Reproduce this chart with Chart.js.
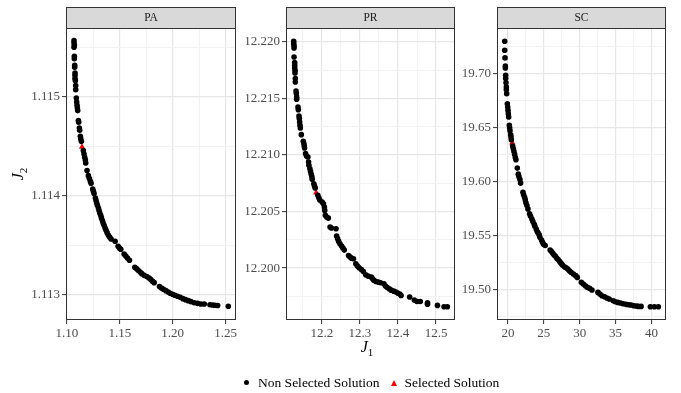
<!DOCTYPE html>
<html>
<head>
<meta charset="utf-8">
<script src="https://cdn.jsdelivr.net/npm/chart.js@4.4.0/dist/chart.umd.min.js"></script>
<style>
  html, body { margin: 0; padding: 0; background: #fff; }
  #wrap { position: relative; width: 681px; height: 393px; overflow: hidden; font-family: 'Liberation Serif', serif; }
  #wrap canvas { position: absolute; left: 0; top: 0; }
  .axtitle { position: absolute; width: 40px; height: 20px; line-height: 20px; text-align: center; font-size: 16px; color: #000; }
  .axtitle sub { font-size: 11px; font-style: normal; }
  #legend { position: absolute; left: 244px; top: 373px; font-size: 13.5px; color: #000; white-space: nowrap; line-height: 18px; }
  #legend span { display: inline-block; vertical-align: middle; }
  .dot { width: 5px; height: 5px; border-radius: 50%; background: #000; margin-right: 9px; }
  .tri { width: 0; height: 0; border-left: 3.5px solid transparent; border-right: 3.5px solid transparent; border-bottom: 6px solid #ff0000; margin: 0 8px 0 11px; }
</style>
</head>
<body>
<div id="wrap">
  <canvas id="pa" width="681" height="393"></canvas>
  <canvas id="pr" width="681" height="393"></canvas>
  <canvas id="sc" width="681" height="393"></canvas>
  <div class="axtitle" style="left:347px; top:337px;"><i>J</i><sub>1</sub></div>
  <div class="axtitle" style="left:-2px; top:164px; transform: rotate(-90deg);"><i>J</i><sub>2</sub></div>
  <div id="legend"><span class="dot"></span><span>Non Selected Solution</span><span class="tri"></span><span>Selected Solution</span></div>
</div>
<script>
// PA panel
const paJ1 = [1.10678,1.10678,1.10709,1.10678,1.10709,1.10709,1.10741,1.10741,1.10772,1.10772,
  1.10772,1.10804,1.10835,1.10835,1.10898,1.10930,1.10962,1.10993,1.11025,1.11088,
  1.11119,1.11182,1.11214,1.11277,1.11309,1.11372,1.11561,1.11624,1.11687,1.11750,
  1.11782,1.11908,1.12034,1.12129,1.12224,1.12287,1.12444,1.12508,1.12571,1.12697,
  1.12760,1.12823,1.12886,1.12981,1.13044,1.13107,1.13202,1.13265,1.13359,1.13422,
  1.13517,1.13612,1.13706,1.13801,1.13927,1.14053,1.14180,1.14558,1.14842,1.14968,
  1.15095,1.15410,1.15568,1.15726,1.15915,1.16420,1.16578,1.16735,1.16925,1.17082,
  1.17303,1.17556,1.17776,1.17934,1.18092,1.18250,1.18754,1.18944,1.19133,1.19354,
  1.19575,1.19764,1.19985,1.20206,1.20458,1.20711,1.20963,1.21215,1.21468,1.21720,
  1.22036,1.22351,1.22667,1.22982,1.23519,1.23771,1.23992,1.24244,1.25254];
const paJ2 = [1.115570,1.115546,1.115523,1.115503,1.115412,1.115388,1.115320,1.115300,1.115243,1.115219,
  1.115186,1.115165,1.115115,1.115074,1.114990,1.114949,1.114916,1.114889,1.114862,1.114761,
  1.114744,1.114686,1.114663,1.114602,1.114578,1.114551,1.114457,1.114423,1.114389,1.114362,
  1.114332,1.114255,1.114204,1.114174,1.114147,1.114126,1.114069,1.114045,1.114022,1.113978,
  1.113951,1.113927,1.113904,1.113877,1.113850,1.113826,1.113803,1.113776,1.113749,1.113725,
  1.113701,1.113674,1.113651,1.113627,1.113600,1.113580,1.113563,1.113540,1.113489,1.113472,
  1.113459,1.113411,1.113391,1.113371,1.113347,1.113276,1.113263,1.113246,1.113229,1.113212,
  1.113195,1.113182,1.113168,1.113152,1.113135,1.113121,1.113081,1.113067,1.113054,1.113040,
  1.113027,1.113013,1.113003,1.112993,1.112983,1.112973,1.112959,1.112949,1.112939,1.112929,
  1.112918,1.112911,1.112905,1.112905,1.112898,1.112895,1.112892,1.112889,1.112882];
const paSelected = [1.11435, 1.114494];
const paXTicks = [1.10, 1.15, 1.20, 1.25];
const paXLabels = ['1.10', '1.15', '1.20', '1.25'];
const paYTicks = [1.113, 1.114, 1.115];
const paYLabels = ['1.113', '1.114', '1.115'];

// PR panel
const prJ1 = [12.1263,12.1263,12.1272,12.1272,12.1272,12.1289,12.1289,12.1289,12.1298,12.1298,
  12.1306,12.1306,12.1324,12.1332,12.1341,12.1341,12.1376,12.1384,12.1402,12.1410,
  12.1419,12.1428,12.1437,12.1463,12.1515,12.1532,12.1541,12.1549,12.1575,12.1601,
  12.1636,12.1653,12.1662,12.1688,12.1705,12.1723,12.1740,12.1749,12.1792,12.1809,
  12.1827,12.1896,12.1922,12.1948,12.2009,12.2043,12.2069,12.2078,12.2095,12.2130,
  12.2173,12.2217,12.2251,12.2373,12.2390,12.2416,12.2442,12.2477,12.2520,12.2555,
  12.2590,12.2702,12.2737,12.2780,12.2832,12.2893,12.2936,12.2980,12.3040,12.3092,
  12.3153,12.3214,12.3301,12.3335,12.3370,12.3422,12.3483,12.3543,12.3630,12.3673,
  12.3717,12.3769,12.3821,12.3890,12.3942,12.3994,12.4046,12.4081,12.4306,12.4428,
  12.4497,12.4584,12.4774,12.4774,12.5035,12.5208,12.5295];
const prJ2 = [12.22006,12.21985,12.21965,12.21947,12.21867,12.21817,12.21794,12.21770,12.21749,12.21726,
  12.21676,12.21646,12.21566,12.21543,12.21513,12.21493,12.21425,12.21401,12.21345,12.21322,
  12.21292,12.21263,12.21239,12.21180,12.21121,12.21100,12.21080,12.21062,12.21012,12.20991,
  12.20982,12.20938,12.20909,12.20879,12.20855,12.20829,12.20808,12.20785,12.20746,12.20726,
  12.20708,12.20643,12.20622,12.20602,12.20584,12.20569,12.20540,12.20510,12.20466,12.20451,
  12.20442,12.20363,12.20354,12.20348,12.20283,12.20260,12.20236,12.20215,12.20195,12.20177,
  12.20159,12.20112,12.20100,12.20088,12.20083,12.20038,12.20018,12.20003,12.19988,12.19970,
  12.19941,12.19929,12.19920,12.19906,12.19891,12.19882,12.19876,12.19870,12.19861,12.19841,
  12.19829,12.19817,12.19805,12.19796,12.19788,12.19779,12.19770,12.19758,12.19744,12.19717,
  12.19705,12.19705,12.19693,12.19681,12.19670,12.19658,12.19658];
const prSelected = [12.1853, 12.20667];
const prXTicks = [12.2, 12.3, 12.4, 12.5];
const prXLabels = ['12.2', '12.3', '12.4', '12.5'];
const prYTicks = [12.200, 12.205, 12.210, 12.215, 12.220];
const prYLabels = ['12.200', '12.205', '12.210', '12.215', '12.220'];

// SC panel
const scJ1 = [19.537,19.537,19.583,19.630,19.630,19.676,19.676,19.722,19.769,19.769,
  19.815,19.907,19.954,20.000,20.046,20.093,20.185,20.231,20.278,20.370,
  20.417,20.463,20.648,20.741,20.833,20.926,21.019,21.111,21.296,21.435,
  21.528,21.667,21.759,22.083,22.176,22.315,22.407,22.500,22.639,22.778,
  23.009,23.148,23.333,23.472,23.657,23.750,23.935,24.074,24.213,24.352,
  24.444,24.676,24.815,24.954,25.185,25.880,26.065,26.250,26.435,26.620,
  26.806,26.991,27.222,27.407,27.593,27.870,28.102,28.333,28.565,28.796,
  29.120,29.444,29.676,30.231,30.509,30.787,31.065,31.389,31.713,32.546,
  32.824,33.102,33.472,33.796,34.120,34.676,34.954,35.324,35.694,36.065,
  36.481,36.852,37.176,37.546,37.917,38.194,38.565,39.861,40.417,40.972];
const scJ2 = [19.7300,19.7217,19.7146,19.7071,19.7053,19.6985,19.6954,19.6916,19.6876,19.6851,
  19.6814,19.6721,19.6690,19.6659,19.6628,19.6598,19.6520,19.6495,19.6471,19.6433,
  19.6412,19.6387,19.6328,19.6303,19.6279,19.6251,19.6223,19.6201,19.6124,19.6068,
  19.6043,19.6019,19.5985,19.5901,19.5876,19.5854,19.5830,19.5802,19.5777,19.5746,
  19.5700,19.5678,19.5653,19.5628,19.5604,19.5585,19.5560,19.5536,19.5523,19.5505,
  19.5483,19.5458,19.5437,19.5418,19.5406,19.5365,19.5350,19.5334,19.5319,19.5307,
  19.5288,19.5276,19.5257,19.5241,19.5226,19.5210,19.5201,19.5189,19.5173,19.5158,
  19.5142,19.5127,19.5111,19.5065,19.5050,19.5034,19.5019,19.5009,19.4994,19.4972,
  19.4957,19.4941,19.4932,19.4920,19.4910,19.4895,19.4885,19.4879,19.4873,19.4867,
  19.4861,19.4858,19.4855,19.4848,19.4845,19.4842,19.4842,19.4839,19.4839,19.4839];
const scSelected = [20.602, 19.6359];
const scXTicks = [20, 25, 30, 35, 40];
const scXLabels = ['20', '25', '30', '35', '40'];
const scYTicks = [19.50, 19.55, 19.60, 19.65, 19.70];
const scYLabels = ['19.50', '19.55', '19.60', '19.65', '19.70'];

const W = 681, H = 393;
const Y_AXIS_W = 40, X_AXIS_H = 30;
const FONT = 'Liberation Serif';

// major ticks plus the half-way minor gridlines inside the range
function tickSet(majors, min, max) {
    const half = (majors[1] - majors[0]) / 2;
    const out = [];
    for (let v = majors[0] - half; v <= majors[majors.length - 1] + half + 1e-9; v += half) {
        const r = +v.toFixed(6);
        if (r > min && r < max) out.push(r);
    }
    return out;
}

function labelFor(majors, labels, v) {
    const eps = (majors[1] - majors[0]) * 1e-3;
    const i = majors.findIndex(m => Math.abs(m - v) < eps);
    return i >= 0 ? labels[i] : '';
}

function axis(majors, labels, range, isX) {
    const major = c => c.tick && labelFor(majors, labels, c.tick.value) !== '';
    return {
        type: 'linear',
        position: isX ? 'bottom' : 'left',
        min: range[0],
        max: range[1],
        afterBuildTicks: ax => { ax.ticks = tickSet(majors, range[0], range[1]).map(v => ({ value: v })); },
        afterFit: ax => { if (isX) ax.height = X_AXIS_H; else ax.width = Y_AXIS_W; },
        border: { display: false },
        grid: {
            color: c => major(c) ? '#E6E6E6' : '#F2F2F2',
            lineWidth: c => major(c) ? 1.2 : 1,
            tickColor: c => major(c) ? '#333333' : 'rgba(0,0,0,0)',
            tickLength: 4,
            tickWidth: 1
        },
        ticks: {
            autoSkip: false,
            maxRotation: 0,
            padding: 2,
            color: '#4D4D4D',
            font: { family: FONT, size: 13 },
            callback: v => labelFor(majors, labels, v)
        }
    };
}

const panelFrame = {
    id: 'panelFrame',
    beforeDraw(chart, args, opts) {
        const a = chart.chartArea, ctx = chart.ctx;
        ctx.save();
        ctx.fillStyle = '#D9D9D9';
        ctx.fillRect(a.left, a.top - 21, a.right - a.left, 21);
        ctx.strokeStyle = '#333333';
        ctx.lineWidth = 1;
        ctx.strokeRect(a.left + 0.5, a.top - 20.5, a.right - a.left - 1, 21);
        ctx.fillStyle = '#1A1A1A';
        ctx.font = '11.5px "' + FONT + '"';
        ctx.textAlign = 'center';
        ctx.textBaseline = 'middle';
        ctx.fillText(opts.label, (a.left + a.right) / 2, a.top - 10);
        ctx.restore();
    },
    afterDraw(chart) {
        const a = chart.chartArea, ctx = chart.ctx;
        ctx.save();
        ctx.strokeStyle = '#333333';
        ctx.lineWidth = 1;
        ctx.strokeRect(a.left + 0.5, a.top + 0.5, a.right - a.left - 1, a.bottom - a.top - 1);
        ctx.restore();
    }
};

function makePanel(id, label, j1, j2, sel, xTicks, xLabels, yTicks, yLabels, xRange, yRange, left, right) {
    const pts = j1.map((x, i) => ({ x: x, y: j2[i] }));
    new Chart(document.getElementById(id), {
        type: 'scatter',
        data: {
            datasets: [{
                label: 'Non Selected Solution',
                data: pts,
                pointRadius: 2.8,
                pointBorderWidth: 0,
                backgroundColor: '#000000'
            }, {
                label: 'Selected Solution',
                data: [{ x: sel[0], y: sel[1] }],
                pointStyle: 'triangle',
                pointRadius: 3.6,
                pointBorderWidth: 0,
                backgroundColor: '#FF0000'
            }]
        },
        options: {
            responsive: false,
            animation: false,
            events: [],
            layout: {
                padding: { left: left - Y_AXIS_W, right: W - right, top: 28, bottom: H - 320 - X_AXIS_H }
            },
            scales: {
                x: axis(xTicks, xLabels, xRange, true),
                y: axis(yTicks, yLabels, yRange, false)
            },
            plugins: {
                legend: { display: false },
                tooltip: { enabled: false },
                panelFrame: { label: label }
            }
        },
        plugins: [panelFrame]
    });
}

makePanel('pa', 'PA', paJ1, paJ2, paSelected, paXTicks, paXLabels, paYTicks, paYLabels,
    [1.0992, 1.2598], [1.112743, 1.115698], 66, 236);
makePanel('pr', 'PR', prJ1, prJ2, prSelected, prXTicks, prXLabels, prYTicks, prYLabels,
    [12.1061, 12.5496], [12.19541, 12.22123], 286, 455);
makePanel('sc', 'SC', scJ1, scJ2, scSelected, scXTicks, scXLabels, scYTicks, scYLabels,
    [18.465, 42.04], [19.4716, 19.7423], 497, 666);
</script>
</body>
</html>
